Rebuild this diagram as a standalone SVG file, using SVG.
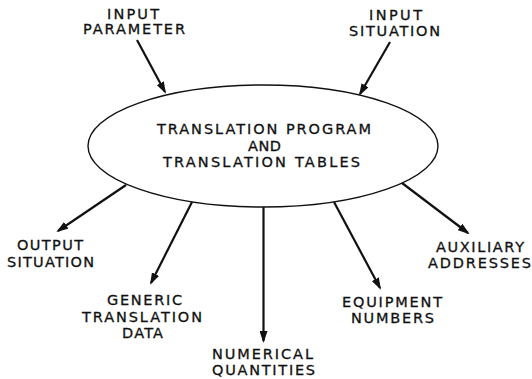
<svg xmlns="http://www.w3.org/2000/svg" width="532" height="379" viewBox="0 0 532 379">
  <style>
    .lbl { font-family: "DejaVu Sans", "Liberation Sans", sans-serif; font-size: 14.5px; fill: #111; stroke: #111; stroke-width: 0.3; text-anchor: middle; }
    .edge { stroke: #111; stroke-width: 2.2; fill: none; marker-end: url(#head); }
    .hub { fill: #fff; stroke: #111; stroke-width: 1.4; }
  </style>
  <defs>
    <marker id="head" markerUnits="userSpaceOnUse" markerWidth="12" markerHeight="8" viewBox="0 0 12 8" refX="10" refY="4" orient="auto">
      <path d="M0,0 L12,4 L0,8 z" fill="#111"/>
    </marker>
  </defs>
  <rect width="532" height="379" fill="#fff"/>

  <g id="connectors">
    <line class="edge" x1="137" y1="40" x2="165" y2="92"/>
    <line class="edge" x1="390" y1="42" x2="360" y2="94"/>
    <line class="edge" x1="126" y1="185" x2="58" y2="231"/>
    <line class="edge" x1="192" y1="202" x2="151" y2="283"/>
    <line class="edge" x1="263.5" y1="207" x2="263.5" y2="341"/>
    <line class="edge" x1="334" y1="202" x2="380" y2="288"/>
    <line class="edge" x1="402" y1="183" x2="468" y2="233"/>
  </g>

  <g id="translation-program">
    <ellipse class="hub" cx="263" cy="146" rx="175" ry="61"/>
    <text class="lbl" x="264" y="134" textLength="214" lengthAdjust="spacing">TRANSLATION PROGRAM</text>
    <text class="lbl" x="264.5" y="150.5" textLength="33" lengthAdjust="spacing">AND</text>
    <text class="lbl" x="261.5" y="167" textLength="197" lengthAdjust="spacing">TRANSLATION TABLES</text>
  </g>

  <g id="input-parameter">
    <text class="lbl" x="133" y="18.5" textLength="52" lengthAdjust="spacing">INPUT</text>
    <text class="lbl" x="134" y="34" textLength="102" lengthAdjust="spacing">PARAMETER</text>
  </g>

  <g id="input-situation">
    <text class="lbl" x="395.5" y="20" textLength="53" lengthAdjust="spacing">INPUT</text>
    <text class="lbl" x="394.5" y="36" textLength="91" lengthAdjust="spacing">SITUATION</text>
  </g>

  <g id="output-situation">
    <text class="lbl" x="50" y="250" textLength="66" lengthAdjust="spacing">OUTPUT</text>
    <text class="lbl" x="50.5" y="267" textLength="87" lengthAdjust="spacing">SITUATION</text>
  </g>

  <g id="generic-translation-data">
    <text class="lbl" x="144.5" y="305" textLength="75" lengthAdjust="spacing">GENERIC</text>
    <text class="lbl" x="142" y="321.5" textLength="120" lengthAdjust="spacing">TRANSLATION</text>
    <text class="lbl" x="142.5" y="337.5" textLength="41" lengthAdjust="spacing">DATA</text>
  </g>

  <g id="numerical-quantities">
    <text class="lbl" x="262.5" y="358.5" textLength="101" lengthAdjust="spacing">NUMERICAL</text>
    <text class="lbl" x="263.5" y="375" textLength="103" lengthAdjust="spacing">QUANTITIES</text>
  </g>

  <g id="equipment-numbers">
    <text class="lbl" x="392" y="307" textLength="100" lengthAdjust="spacing">EQUIPMENT</text>
    <text class="lbl" x="392.5" y="323" textLength="83" lengthAdjust="spacing">NUMBERS</text>
  </g>

  <g id="auxiliary-addresses">
    <text class="lbl" x="480" y="252" textLength="88" lengthAdjust="spacing">AUXILIARY</text>
    <text class="lbl" x="479.5" y="268" textLength="103" lengthAdjust="spacing">ADDRESSES</text>
  </g>
</svg>
